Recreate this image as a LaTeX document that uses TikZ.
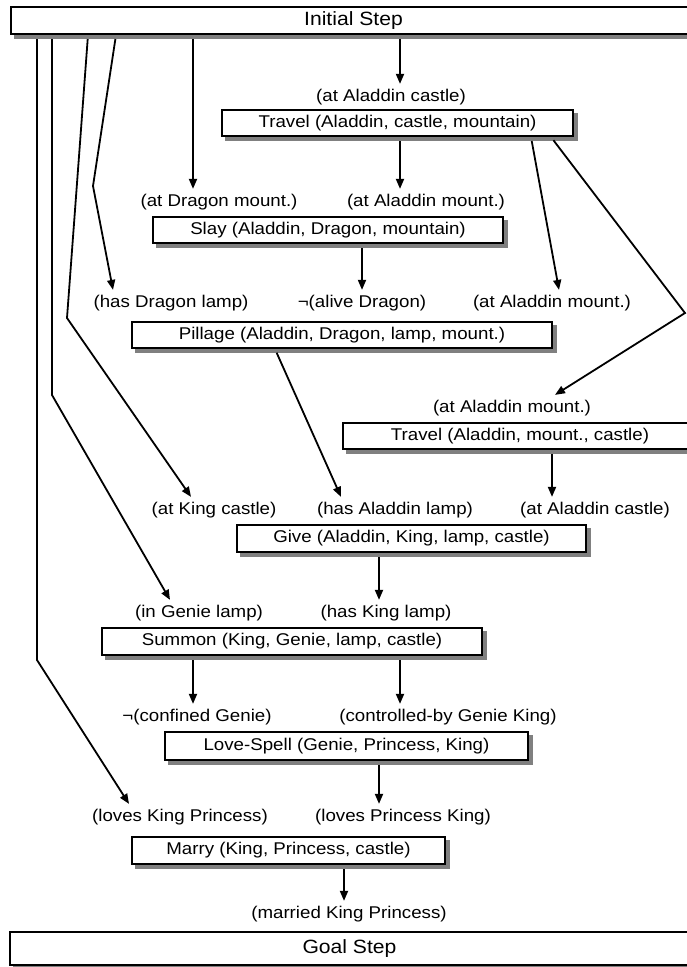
\documentclass[tikz,border=0pt]{standalone}
\usepackage{fontspec}
\setmainfont[FakeStretch=1.1]{Liberation Sans}
\usetikzlibrary{arrows.meta,backgrounds}
\tikzset{
	act/.style={draw,line width=2.1pt,fill=white,inner sep=0pt,font=\fontsize{17}{19}\selectfont},
	endact/.style={act,font=\fontsize{19.2}{21}\selectfont},
	cond/.style={inner sep=5pt,font=\fontsize{17}{19}\selectfont},
	shade/.style={fill=black!50},
	link/.style={-{Triangle[length=10pt,width=8pt]},line width=1.8pt,shorten <=4pt}
}

\begin{document}
\begin{tikzpicture}[x=1pt,y=-1pt]
			\useasboundingbox (0,0) rectangle (687,967);
			\node[endact,minimum width=685pt,minimum height=27pt] (init) at (353.5,20.5) {Initial Step};
			\node[act,minimum width=351pt,minimum height=26pt] (travelA) at (397.5,123) {Travel (Aladdin, castle, mountain)};
			\node[act,minimum width=350pt,minimum height=26pt] (slay) at (328,230) {Slay (Aladdin, Dragon, mountain)};
			\node[act,minimum width=420pt,minimum height=26pt] (pillage) at (342,335) {Pillage (Aladdin, Dragon, lamp, mount.)};
			\node[act,minimum width=354pt,minimum height=26pt] (travelB) at (520,436) {Travel (Aladdin, mount., castle)};
			\node[act,minimum width=349pt,minimum height=27pt] (give) at (411.5,538.5) {Give (Aladdin, King, lamp, castle)};
			\node[act,minimum width=380pt,minimum height=27pt] (summon) at (292,641.5) {Summon (King, Genie, lamp, castle)};
			\node[act,minimum width=363pt,minimum height=28pt] (spell) at (346.5,746) {Love-Spell (Genie, Princess, King)};
			\node[act,minimum width=313pt,minimum height=27pt] (marry) at (288.5,850.5) {Marry (King, Princess, castle)};
			\node[endact,minimum width=679pt,minimum height=33pt] (goal) at (349.5,948.5) {Goal Step};
			\begin{scope}[on background layer]
				\foreach \b in {init,travelA,slay,pillage,travelB,give,summon,spell,marry,goal}
					\fill[shade] ([xshift=4pt,yshift=-4pt]\b.south west) rectangle ([xshift=4pt,yshift=-4pt]\b.north east);
			\end{scope}
			\node[cond] (acA) at (391,97) {(at Aladdin castle)};
			\node[cond] (adm) at (219,202) {(at Dragon mount.)};
			\node[cond] (amA) at (426,202) {(at Aladdin mount.)};
			\node[cond] (hdl) at (171,303) {(has Dragon lamp)};
			\node[cond] (nad) at (362,303) {¬(alive Dragon)};
			\node[cond] (amB) at (552,303) {(at Aladdin mount.)};
			\node[cond] (amC) at (512,408) {(at Aladdin mount.)};
			\node[cond] (akc) at (214,510) {(at King castle)};
			\node[cond] (hal) at (395,510) {(has Aladdin lamp)};
			\node[cond] (acB) at (595,510) {(at Aladdin castle)};
			\node[cond] (igl) at (199,613) {(in Genie lamp)};
			\node[cond] (hkl) at (386,613) {(has King lamp)};
			\node[cond] (ncg) at (197,717) {¬(confined Genie)};
			\node[cond] (cgk) at (448,717) {(controlled-by Genie King)};
			\node[cond] (lkp) at (180,817) {(loves King Princess)};
			\node[cond] (lpk) at (403,817) {(loves Princess King)};
			\node[cond] (mkp) at (349,914) {(married King Princess)};
			\coordinate (bendC) at (685,313);
			\coordinate (bendH) at (93,186);
			\coordinate (bendK) at (67,318);
			\coordinate (bendG) at (52,395);
			\coordinate (bendL) at (37,660);
			\draw[link] (init.south -| 400,0) -- (acA.north -| 400,0);
			\draw[link] (init.south -| 193,0) -- (adm.north -| 193,0);
			\draw[link] (init.south -| 116,0) -- (bendH) -- (hdl.north -| 113,0);
			\draw[link] (init.south -| 88,0) -- (bendK) -- (akc.north -| 191,0);
			\draw[link] (init.south -| 52,0) -- (bendG) -- (igl.north -| 170,0);
			\draw[link] (init.south -| 37,0) -- (bendL) -- (lkp.north -| 129,0);
			\draw[link] (travelA.south -| 400,0) -- (amA.north -| 400,0);
			\draw[link] (travelA.south -| 531,0) -- (amB.north -| 559,0);
			\draw[link] (travelA.south -| 551,0) -- (bendC) -- (amC.north -| 555,0);
			\draw[link] (slay.south -| 362,0) -- (nad.north -| 362,0);
			\draw[link] (pillage.south -| 275,0) -- (hal.north -| 341,0);
			\draw[link] (travelB.south -| 552,0) -- (acB.north -| 552,0);
			\draw[link] (give.south -| 379,0) -- (hkl.north -| 379,0);
			\draw[link] (summon.south -| 193,0) -- (ncg.north -| 193,0);
			\draw[link] (summon.south -| 400,0) -- (cgk.north -| 400,0);
			\draw[link] (spell.south -| 379,0) -- (lpk.north -| 379,0);
			\draw[link] (marry.south -| 344,0) -- (mkp.north -| 344,0);
\end{tikzpicture}
\end{document}
